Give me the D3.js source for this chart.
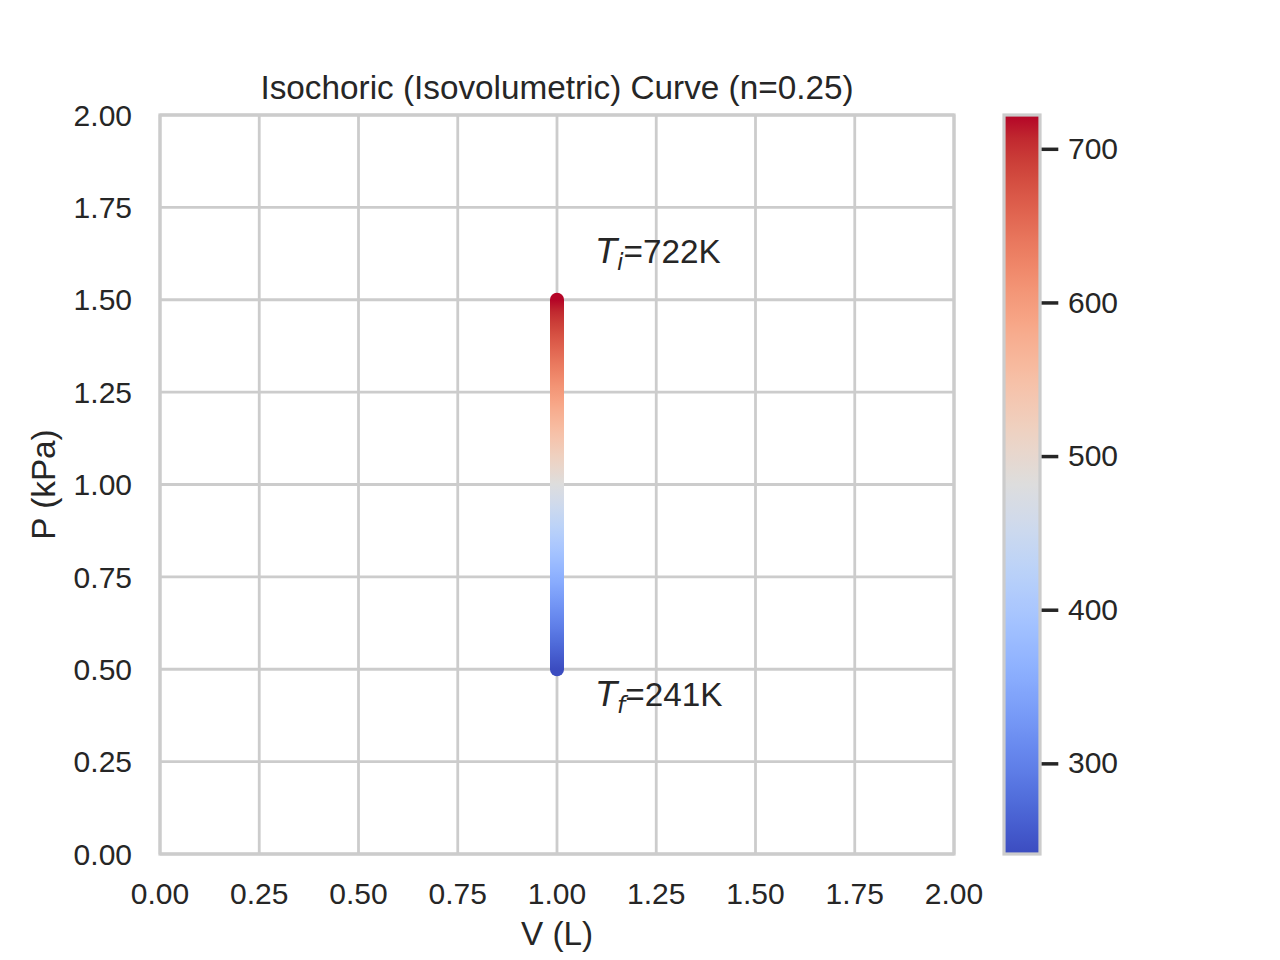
<!DOCTYPE html>
<html>
<head>
<meta charset="utf-8">
<script src="https://cdn.jsdelivr.net/npm/d3@7"></script>
<style>
  html, body { margin: 0; padding: 0; background: #fff; }
  svg { display: block; }
  text { font-family: "Liberation Sans", Arial, sans-serif; fill: #262626; }
</style>
</head>
<body>
<svg id="chart" width="1280" height="960"></svg>
<script>
// ---- data ----
const nMoles = 0.25;
const volume = [1.0, 1.0];          // V (L), initial -> final
const pressure = [1.5, 0.5];        // P (kPa), initial -> final
const temperature = [722, 241];     // K, initial -> final
const xTicks = [0, 0.25, 0.5, 0.75, 1.0, 1.25, 1.5, 1.75, 2.0];
const yTicks = [0, 0.25, 0.5, 0.75, 1.0, 1.25, 1.5, 1.75, 2.0];
const cbTicks = [300, 400, 500, 600, 700];
const titleText = "Isochoric (Isovolumetric) Curve (n=" + nMoles + ")";
const xLabelText = "V (L)";
const yLabelText = "P (kPa)";

// coolwarm colormap (Moreland) control colours
const coolwarmStops = [
  [59,76,192],[68,90,204],[77,104,215],[87,117,225],[98,130,234],[108,142,241],
  [119,154,247],[130,165,251],[141,176,254],[152,185,255],[163,194,255],[174,201,253],
  [184,208,249],[194,213,244],[204,217,238],[213,219,230],[221,221,221],[229,216,209],
  [236,211,197],[241,204,185],[245,196,173],[247,187,160],[247,177,148],[247,166,135],
  [244,154,123],[241,141,111],[236,127,99],[229,112,88],[222,96,77],[213,80,66],
  [203,62,56],[192,40,47],[180,4,38]
].map(c => d3.rgb(c[0], c[1], c[2]).toString());
const coolwarm = d3.scaleLinear()
  .domain(d3.range(coolwarmStops.length).map(i => i / (coolwarmStops.length - 1)))
  .range(coolwarmStops)
  .interpolate(d3.interpolateRgb)
  .clamp(true);

// ---- layout ----
const svg = d3.select("#chart");
const plot = { left: 160, right: 954, top: 115, bottom: 854 };
const cb = { left: 1004, right: 1040, top: 115, bottom: 854 };

const x = d3.scaleLinear().domain([0, 2]).range([plot.left, plot.right]);
const y = d3.scaleLinear().domain([0, 2]).range([plot.bottom, plot.top]);
const tMin = d3.min(temperature), tMax = d3.max(temperature);
const norm = d3.scaleLinear().domain([tMin, tMax]).range([0, 1]);
const cbY = d3.scaleLinear().domain([tMin, tMax]).range([cb.bottom, cb.top]);

const gridColor = "#cccccc";
const tickFont = 30;
const labelFont = 33.3;

// grid
const g = svg.append("g");
g.selectAll("line.vx").data(xTicks).enter().append("line")
  .attr("x1", d => x(d)).attr("x2", d => x(d))
  .attr("y1", plot.top).attr("y2", plot.bottom)
  .attr("stroke", gridColor).attr("stroke-width", 2.8);
g.selectAll("line.hy").data(yTicks).enter().append("line")
  .attr("y1", d => y(d)).attr("y2", d => y(d))
  .attr("x1", plot.left).attr("x2", plot.right)
  .attr("stroke", gridColor).attr("stroke-width", 2.8);

// spines
svg.append("rect")
  .attr("x", plot.left).attr("y", plot.top)
  .attr("width", plot.right - plot.left).attr("height", plot.bottom - plot.top)
  .attr("fill", "none").attr("stroke", gridColor).attr("stroke-width", 3.2);

// tick labels
svg.selectAll("text.xt").data(xTicks).enter().append("text")
  .attr("x", d => x(d)).attr("y", 904)
  .attr("text-anchor", "middle").attr("font-size", tickFont)
  .text(d => d3.format(".2f")(d));
svg.selectAll("text.yt").data(yTicks).enter().append("text")
  .attr("x", 132).attr("y", d => y(d) + 10.7)
  .attr("text-anchor", "end").attr("font-size", tickFont)
  .text(d => d3.format(".2f")(d));

// axis labels & title
svg.append("text").attr("x", (plot.left + plot.right) / 2).attr("y", 945)
  .attr("text-anchor", "middle").attr("font-size", labelFont).text(xLabelText);
svg.append("text")
  .attr("transform", `translate(55, ${(plot.top + plot.bottom) / 2}) rotate(-90)`)
  .attr("text-anchor", "middle").attr("font-size", labelFont).text(yLabelText);
svg.append("text").attr("x", (plot.left + plot.right) / 2).attr("y", 99)
  .attr("text-anchor", "middle").attr("font-size", labelFont).text(titleText);

// ---- gradient-coloured isochoric line ----
const defs = svg.append("defs");
const lineGrad = defs.append("linearGradient")
  .attr("id", "lineGrad").attr("gradientUnits", "userSpaceOnUse")
  .attr("x1", x(volume[0])).attr("x2", x(volume[1]))
  .attr("y1", y(pressure[0])).attr("y2", y(pressure[1]));
const nStops = 64;
d3.range(nStops + 1).forEach(k => {
  const f = k / nStops;
  const T = temperature[0] + (temperature[1] - temperature[0]) * f;
  lineGrad.append("stop").attr("offset", f).attr("stop-color", coolwarm(norm(T)));
});
svg.append("line")
  .attr("x1", x(volume[0])).attr("x2", x(volume[1]))
  .attr("y1", y(pressure[0])).attr("y2", y(pressure[1]))
  .attr("stroke", "url(#lineGrad)").attr("stroke-width", 14)
  .attr("stroke-linecap", "round");

// annotations
function annotate(sub, T, vx, py) {
  const t = svg.append("text").attr("x", x(vx)).attr("y", y(py)).attr("font-size", labelFont);
  t.append("tspan").attr("font-family", "DejaVu Sans").attr("font-style", "italic").text("T");
  t.append("tspan").attr("font-family", "DejaVu Sans").attr("font-style", "italic")
    .attr("font-size", labelFont * 0.7).attr("dy", 7).text(sub);
  t.append("tspan").attr("dy", -7).text("=" + T + "K");
}
annotate("i", temperature[0], volume[0] + 0.1, pressure[0] + 0.1);
annotate("f", temperature[1], volume[1] + 0.1, pressure[1] - 0.1);

// ---- colorbar ----
const cbGrad = defs.append("linearGradient")
  .attr("id", "cbGrad").attr("x1", 0).attr("x2", 0).attr("y1", 1).attr("y2", 0);
d3.range(nStops + 1).forEach(k => {
  const f = k / nStops;
  cbGrad.append("stop").attr("offset", f).attr("stop-color", coolwarm(f));
});
svg.append("rect")
  .attr("x", cb.left).attr("y", cb.top)
  .attr("width", cb.right - cb.left).attr("height", cb.bottom - cb.top)
  .attr("fill", "url(#cbGrad)")
  .attr("stroke", gridColor).attr("stroke-width", 3.2);

const cbAxis = d3.axisRight(cbY).tickValues(cbTicks).tickSize(16.7).tickPadding(9.7);
const cbG = svg.append("g").attr("transform", `translate(${cb.right + 1.6},0)`).call(cbAxis);
cbG.select(".domain").remove();
cbG.selectAll(".tick line").attr("stroke", "#262626").attr("stroke-width", 3.5);
cbG.selectAll(".tick text")
  .attr("font-family", '"Liberation Sans", Arial, sans-serif')
  .attr("font-size", tickFont).attr("fill", "#262626");
</script>
</body>
</html>
